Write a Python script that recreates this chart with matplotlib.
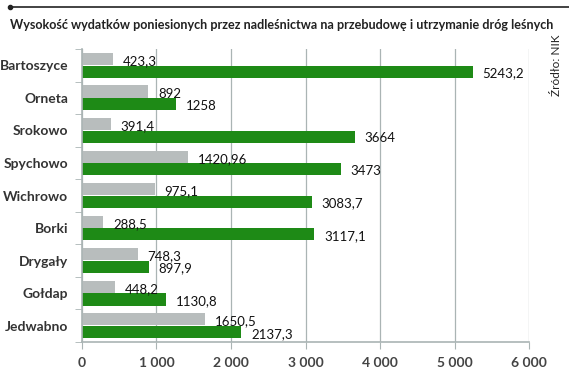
import matplotlib
matplotlib.use('Agg')
import matplotlib.pyplot as plt
from matplotlib.lines import Line2D
import numpy as np

categories = ['Bartoszyce', 'Orneta', 'Srokowo', 'Spychowo', 'Wichrowo',
              'Borki', 'Drygały', 'Gołdap', 'Jedwabno']
grey_vals = [423.3, 892, 391.4, 1420.96, 975.1, 288.5, 748.3, 448.2, 1650.5]
green_vals = [5243.2, 1258, 3664, 3473, 3083.7, 3117.1, 897.9, 1130.8, 2137.3]
xticks = [0, 1000, 2000, 3000, 4000, 5000, 6000]
title = 'Wysokość wydatków poniesionych przez nadleśnictwa na przebudowę i utrzymanie dróg leśnych'
source = 'Źródło: NIK'

GREEN = '#1e8a16'
GREY = '#b8bdbd'
GRID = '#aab4b4'
TXT = '#333333'

plt.rcParams['font.family'] = ['Lato', 'DejaVu Sans']

fig = plt.figure(figsize=(5.69, 3.8), dpi=100)
ax = fig.add_axes([0.144, 0.1, 0.786, 0.771])

y = np.arange(len(categories))
h = 0.37
ax.barh(y - h / 2 - 0.01, grey_vals, height=h, color=GREY, zorder=2)
ax.barh(y + h / 2 + 0.01, green_vals, height=h, color=GREEN, zorder=2)

def fmt(v):
    return f'{v:g}'.replace('.', ',')

for i in range(len(categories)):
    ax.text(grey_vals[i] + 130, y[i] - h / 2 + 0.06, fmt(grey_vals[i]),
            va='center', ha='left', fontsize=9.5, color='#111111', zorder=3)
    ax.text(green_vals[i] + 130, y[i] + h / 2 + 0.06, fmt(green_vals[i]),
            va='center', ha='left', fontsize=9.5, color='#111111', zorder=3)

ax.set_xlim(0, 6000)
ax.set_ylim(len(categories) - 0.5, -0.5)
ax.set_xticks(xticks)
ax.set_xticklabels([f'{t:,}'.replace(',', ' ') for t in xticks],
                   fontsize=10, fontweight='bold', color='#444444')
ax.set_yticks(y)
ax.set_yticklabels(categories, fontsize=10, fontweight='bold', color=TXT)
ax.tick_params(axis='y', length=0, pad=10)
ax.set_yticks(np.arange(len(categories) + 1) - 0.5, minor=True)
ax.tick_params(axis='y', which='minor', length=5, color=GRID)
ax.tick_params(axis='x', length=5, color=GRID, pad=6)

ax.grid(axis='x', color=GRID, linewidth=0.9, zorder=0)
for s in ['top', 'right']:
    ax.spines[s].set_visible(False)
for s in ['left', 'bottom']:
    ax.spines[s].set_color(GRID)
    ax.spines[s].set_linewidth(1.2)

fig.text(0.018, 0.934, title, fontsize=9.1, fontweight='bold', color='#222222',
         ha='left', va='center')
fig.text(0.978, 0.91, source, fontsize=8.5, color='#222222', rotation=90,
         ha='center', va='top')

fig.add_artist(Line2D([0.018, 1.0], [0.982, 0.982], color='#222222', linewidth=1.2))
fig.add_artist(Line2D([0.018], [0.982], marker='o', markersize=3, color='#222222'))

plt.savefig('out.png', dpi=100)
plt.close()
